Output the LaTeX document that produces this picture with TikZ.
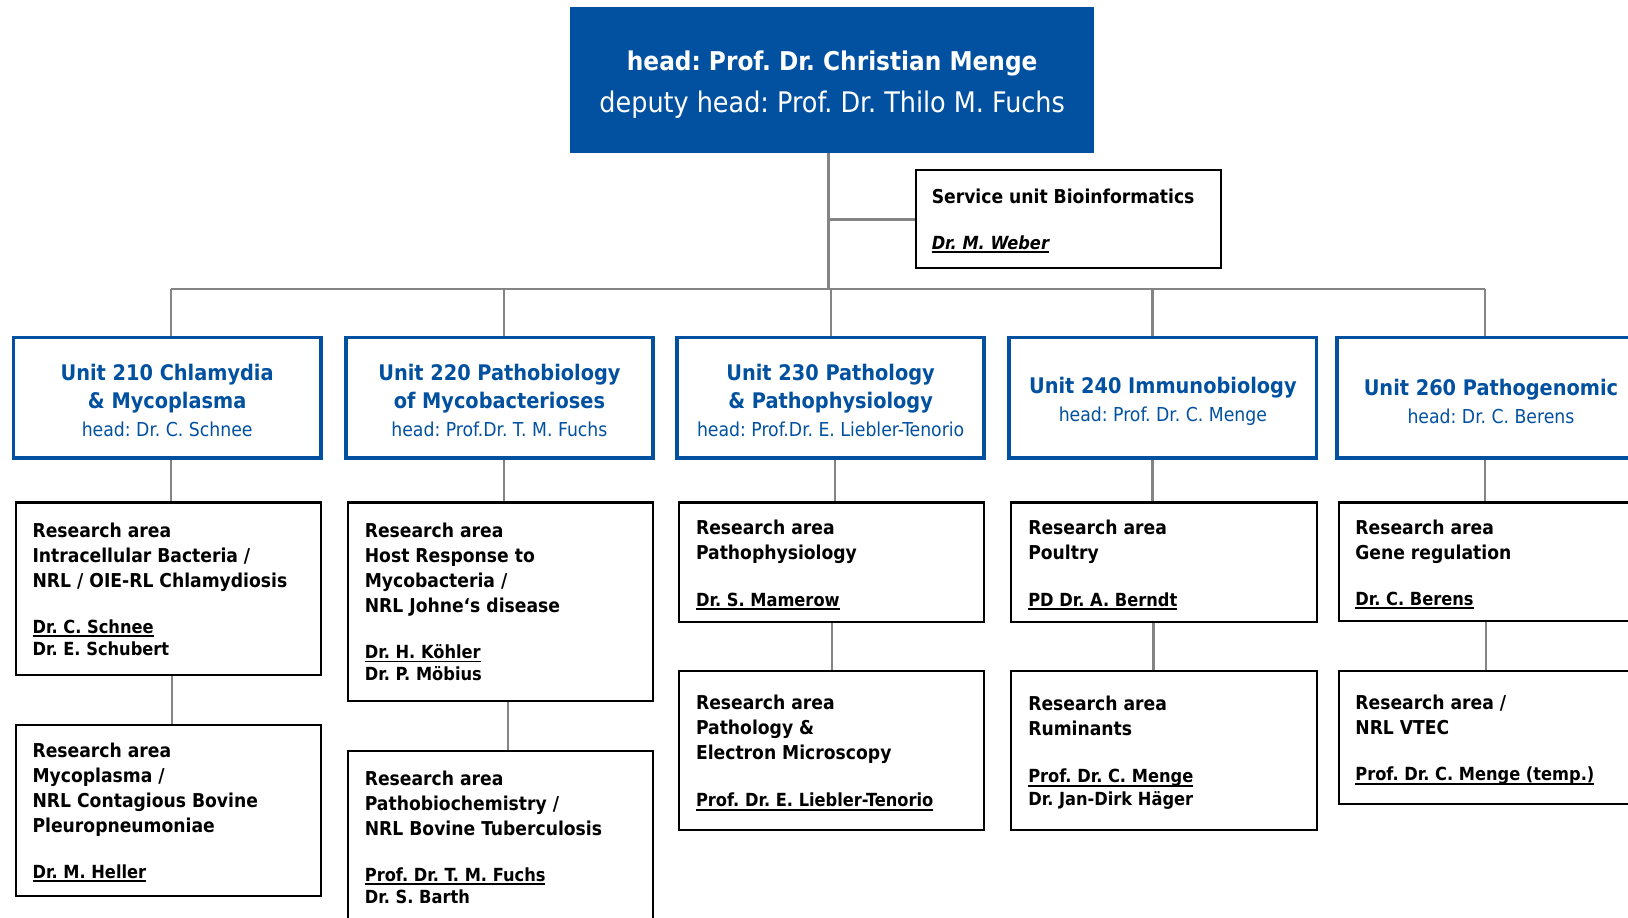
\documentclass[tikz,border=0pt]{standalone}
\usepackage{fontspec}
\setmainfont{DejaVu Sans Condensed}
\frenchspacing
\newsavebox{\ulbox}
\newcommand{\uln}[1]{\sbox{\ulbox}{#1}\rlap{\rule[-1.8pt]{\wd\ulbox}{0.9pt}}\usebox{\ulbox}}
\definecolor{fliblue}{RGB}{2,81,160}
\definecolor{linegray}{RGB}{132,132,132}

\begin{document}
\begin{tikzpicture}[x=0.5pt,y=-0.5pt]
    \tikzstyle{headbox}=[fill=fliblue,text=white,align=center,minimum width=252.5pt,minimum height=70pt,font=\fontsize{13.65}{20}\selectfont]
    \tikzstyle{unit}=[draw=fliblue,line width=1.8pt,text=fliblue,align=center,minimum width=148pt,minimum height=58pt,font=\fontsize{10.35}{13.5}\selectfont\bfseries]
    \tikzstyle{area}=[draw=black,line width=1pt,anchor=north west,minimum width=147pt]
    \tikzstyle{areatext}=[anchor=north west,inner sep=0pt,align=left,font=\fontsize{9.2}{12.1}\selectfont\bfseries]
    \tikzstyle{names}=[anchor=north west,inner sep=0pt,align=left,font=\fontsize{8.7}{10.6}\selectfont\bfseries]
    \tikzstyle{conn}=[draw=linegray,line width=1pt]
    \tikzstyle{trunk}=[draw=linegray,line width=1.4pt]
    \newcommand{\uhead}[1]{{\mdseries\fontsize{9.25}{13.5}\selectfont #1}}

    \useasboundingbox (0,0) rectangle (1568,884);
    \clip (0,0) rectangle (1568,884);

    % institute head
    \node (head) at (801.5,77) [headbox] {\rule{0pt}{14pt}{\bfseries\fontsize{12.45}{20}\selectfont head: Prof. Dr. Christian Menge}\\deputy head: Prof. Dr. Thilo M. Fuchs};

    % service unit
    \node (service) at (881,163) [area,minimum height=47pt] {};
    \node (service-t) at (897,182) [areatext] {Service unit Bioinformatics};
    \node (service-n) at (897,226.5) [names] {\itshape\uln{Dr. M. Weber}};

    % units
    \node (u210) at (161,383) [unit] {\rule{0pt}{10.9pt}Unit 210 Chlamydia\\\& Mycoplasma\\\uhead{head: Dr. C. Schnee}};
    \node (u220) at (481,383) [unit] {\rule{0pt}{10.9pt}Unit 220 Pathobiology\\of Mycobacterioses\\\uhead{head: Prof.Dr. T. M. Fuchs}};
    \node (u230) at (800,383) [unit] {\rule{0pt}{10.9pt}Unit 230 Pathology\\\& Pathophysiology\\\uhead{head: Prof.Dr. E. Liebler-Tenorio}};
    \node (u240) at (1120,383) [unit] {\rule{0pt}{11.5pt}Unit 240 Immunobiology\\\uhead{head: Prof. Dr. C. Menge}};
    \node (u260) at (1436,383) [unit] {\rule{0pt}{11.5pt}Unit 260 Pathogenomic\\\uhead{head: Dr. C. Berens}};

    % research areas, first row
    \node (r210a) at (14,483) [area,minimum height=83pt] {};
    \node (r210a-t) at (31,503) [areatext] {Research area\\Intracellular Bacteria /\\NRL / OIE-RL Chlamydiosis};
    \node (r210a-n) at (31,596.5) [names] {\uln{Dr. C. Schnee}\\Dr. E. Schubert};

    \node (r220a) at (334,483) [area,minimum height=95.5pt] {};
    \node (r220a-t) at (351,503) [areatext] {Research area\\Host Response to\\Mycobacteria /\\NRL Johne‘s disease};
    \node (r220a-n) at (351,620.5) [names] {\uln{Dr. H. Köhler}\\Dr. P. Möbius};

    \node (r230a) at (653,483) [area,minimum height=57.5pt] {};
    \node (r230a-t) at (670,500) [areatext] {Research area\\Pathophysiology};
    \node (r230a-n) at (670,570.5) [names] {\uln{Dr. S. Mamerow}};

    \node (r240a) at (973,483) [area,minimum height=57.5pt] {};
    \node (r240a-t) at (990,500) [areatext] {Research area\\Poultry};
    \node (r240a-n) at (990,570.5) [names] {\uln{PD Dr. A. Berndt}};

    \node (r260a) at (1289,483) [area,minimum height=57pt] {};
    \node (r260a-t) at (1305,500) [areatext] {Research area\\Gene regulation};
    \node (r260a-n) at (1305,569.5) [names] {\uln{Dr. C. Berens}};

    % research areas, second row
    \node (r210b) at (14,697) [area,minimum height=82.5pt] {};
    \node (r210b-t) at (31,715) [areatext] {Research area\\Mycoplasma /\\NRL Contagious Bovine\\Pleuropneumoniae};
    \node (r210b-n) at (31,832.5) [names] {\uln{Dr. M. Heller}};

    \node (r220b) at (334,722) [area,minimum height=90pt] {};
    \node (r220b-t) at (351,742) [areatext] {Research area\\Pathobiochemistry /\\NRL Bovine Tuberculosis};
    \node (r220b-n) at (351,835.5) [names] {\uln{Prof. Dr. T. M. Fuchs}\\Dr. S. Barth};

    \node (r230b) at (653,645) [area,minimum height=76.5pt] {};
    \node (r230b-t) at (670,669) [areatext] {Research area\\Pathology \&\\Electron Microscopy};
    \node (r230b-n) at (670,763.5) [names] {\uln{Prof. Dr. E. Liebler-Tenorio}};

    \node (r240b) at (973,645) [area,minimum height=76.5pt] {};
    \node (r240b-t) at (990,670) [areatext] {Research area\\Ruminants};
    \node (r240b-n) at (990,740.5) [names] {\uln{Prof. Dr. C. Menge}\\Dr. Jan-Dirk Häger};

    \node (r260b) at (1289,645) [area,minimum height=64pt] {};
    \node (r260b-t) at (1305,669) [areatext] {Research area /\\NRL VTEC};
    \node (r260b-n) at (1305,738.5) [names] {\uln{Prof. Dr. C. Menge (temp.)}};

    % connectors
    \coordinate (bar) at (798,278);
    \draw [trunk] ([xshift=-1.75pt]head.south) -- (bar);
    \draw [trunk] (bar |- service.west) -- (service.west);
    \draw [conn] ([xshift=2pt]u210.north |- bar) -- ([xshift=-3pt]u260.north |- bar);
    \draw [conn] ([xshift=2pt]u210.north) -- ([xshift=2pt]u210.north |- bar);
    \draw [conn] ([xshift=2pt]u220.north) -- ([xshift=2pt]u220.north |- bar);
    \draw [conn] (u230.north) -- (u230.north |- bar);
    \draw [conn] ([xshift=-5pt]u240.north) -- ([xshift=-5pt]u240.north |- bar);
    \draw [conn] ([xshift=-3pt]u260.north) -- ([xshift=-3pt]u260.north |- bar);

    \draw [conn] ([xshift=2pt]u210.south) -- ([xshift=2pt]u210.south |- r210a.north);
    \draw [conn] ([xshift=2pt]u220.south) -- ([xshift=2pt]u220.south |- r220a.north);
    \draw [conn] ([xshift=2pt]u230.south) -- ([xshift=2pt]u230.south |- r230a.north);
    \draw [conn] ([xshift=-5pt]u240.south) -- ([xshift=-5pt]u240.south |- r240a.north);
    \draw [conn] ([xshift=-3pt]u260.south) -- ([xshift=-3pt]u260.south |- r260a.north);

    \draw [conn] ([xshift=2pt]r210a.south) -- ([xshift=2pt]r210a.south |- r210b.north);
    \draw [conn] ([xshift=3.5pt]r220a.south) -- ([xshift=3.5pt]r220a.south |- r220b.north);
    \draw [conn] (r230a.south) -- (r230a.south |- r230b.north);
    \draw [conn] ([xshift=-5pt]r240a.south) -- ([xshift=-5pt]r240a.south |- r240b.north);
    \draw [conn] ([xshift=-3pt]r260a.south) -- ([xshift=-3pt]r260a.south |- r260b.north);
\end{tikzpicture}
\end{document}
